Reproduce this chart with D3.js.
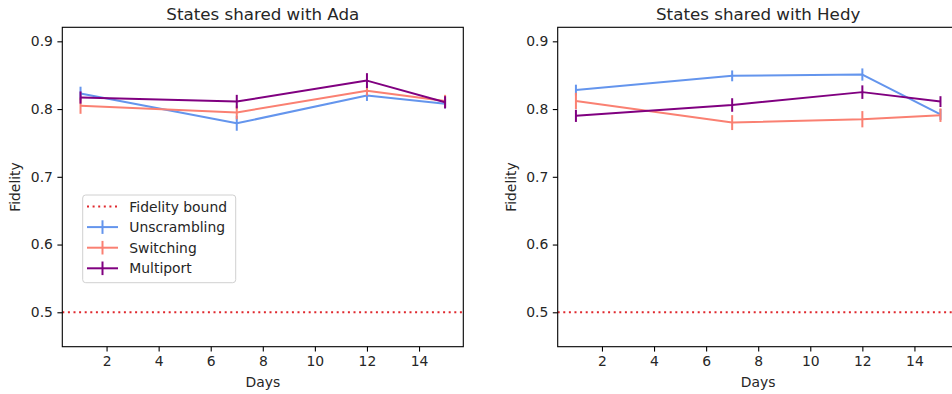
<!DOCTYPE html>
<html><head><meta charset="utf-8">
<script src="https://cdn.jsdelivr.net/npm/d3@7"></script>
<style>body{margin:0;background:#fff}svg{display:block;font-family:"DejaVu Sans",sans-serif}</style>
</head><body><svg id="c" width="952" height="394"></svg>
<script>
const days = [1, 7, 12, 15];
const xTicks = [2, 4, 6, 8, 10, 12, 14];
const yTicks = [0.5, 0.6, 0.7, 0.8, 0.9];
const seriesNames = ["Unscrambling", "Switching", "Multiport"];
const seriesColors = ["#6495ED", "#FA8072", "#800080"];
const boundValue = 0.5;
const titles = ["States shared with Ada", "States shared with Hedy"];

const adaUnscrambling = [0.823, 0.779, 0.820, 0.808];
const adaUnscramblingErr = [0.010, 0.011, 0.008, 0.007];
const adaSwitching = [0.805, 0.795, 0.827, 0.812];
const adaSwitchingErr = [0.012, 0.010, 0.007, 0.009];
const adaMultiport = [0.817, 0.811, 0.842, 0.810];
const adaMultiportErr = [0.009, 0.010, 0.011, 0.009];

const hedyUnscrambling = [0.828, 0.849, 0.851, 0.792];
const hedyUnscramblingErr = [0.008, 0.008, 0.009, 0.008];
const hedySwitching = [0.812, 0.780, 0.785, 0.791];
const hedySwitchingErr = [0.012, 0.011, 0.012, 0.010];
const hedyMultiport = [0.790, 0.806, 0.825, 0.811];
const hedyMultiportErr = [0.009, 0.010, 0.010, 0.008];

const panels = [
  {title: titles[0], left: 62.3, vals: [adaUnscrambling, adaSwitching, adaMultiport], errs: [adaUnscramblingErr, adaSwitchingErr, adaMultiportErr], legend: true},
  {title: titles[1], left: 557.7, vals: [hedyUnscrambling, hedySwitching, hedyMultiport], errs: [hedyUnscramblingErr, hedySwitchingErr, hedyMultiportErr], legend: false}
];

const svg = d3.select("#c");
const W = 401, plotTop = 27.3, plotBottom = 346.7;
const txt = "#262626";
const boundColor = "#e0282e";

panels.forEach(p => {
  const x = d3.scaleLinear().domain([0.3, 15.7]).range([p.left, p.left + W]);
  const y = d3.scaleLinear().domain([0.4492, 0.9207]).range([plotBottom, plotTop]);
  const g = svg.append("g");

  g.append("line").attr("x1", x(0.3)).attr("x2", x(15.7)).attr("y1", y(boundValue)).attr("y2", y(boundValue))
    .attr("stroke", boundColor).attr("stroke-width", 2).attr("stroke-dasharray", "2,3.6");

  const line = d3.line().x((d, i) => x(days[i])).y(d => y(d));
  p.vals.forEach((vals, s) => {
    g.append("path").attr("d", line(vals)).attr("fill", "none")
      .attr("stroke", seriesColors[s]).attr("stroke-width", 2).attr("stroke-linejoin", "round");
    vals.forEach((v, i) => {
      g.append("line").attr("x1", x(days[i])).attr("x2", x(days[i]))
        .attr("y1", y(v - p.errs[s][i])).attr("y2", y(v + p.errs[s][i]))
        .attr("stroke", seriesColors[s]).attr("stroke-width", 2);
    });
  });

  g.append("rect").attr("x", p.left).attr("y", plotTop).attr("width", W).attr("height", plotBottom - plotTop)
    .attr("fill", "none").attr("stroke", "#000").attr("stroke-width", 1.1);

  const xa = g.append("g").attr("transform", `translate(0,${plotBottom})`)
    .call(d3.axisBottom(x).tickValues(xTicks).tickSize(4.9).tickPadding(4.5).tickFormat(d3.format("d")));
  const ya = g.append("g").attr("transform", `translate(${p.left},0)`)
    .call(d3.axisLeft(y).tickValues(yTicks).tickSize(4.9).tickPadding(4.5).tickFormat(d3.format(".1f")));
  [xa, ya].forEach(a => {
    a.select(".domain").remove();
    a.selectAll("line").attr("stroke", "#000").attr("stroke-width", 1.1);
    a.selectAll("text").attr("fill", txt).style("font-size", "13.9px").style("font-family", "DejaVu Sans");
  });

  g.append("text").attr("x", p.left + W / 2).attr("y", 20).attr("text-anchor", "middle")
    .attr("fill", txt).style("font-size", "16.7px").text(p.title);
  g.append("text").attr("x", p.left + W / 2).attr("y", 387).attr("text-anchor", "middle")
    .attr("fill", txt).style("font-size", "13.9px").text("Days");
  g.append("text").attr("transform", `translate(${p.left - 42},${(plotTop + plotBottom) / 2}) rotate(-90)`)
    .attr("text-anchor", "middle").attr("fill", txt).style("font-size", "13.9px").text("Fidelity");

  if (p.legend) {
    const lg = g.append("g");
    lg.append("rect").attr("x", 82.7).attr("y", 195).attr("width", 153).attr("height", 87.7)
      .attr("rx", 3).attr("fill", "#fff").attr("fill-opacity", 0.8).attr("stroke", "#d0d0d0").attr("stroke-width", 1);
    const names = ["Fidelity bound"].concat(seriesNames);
    names.forEach((n, i) => {
      const cy = 206.5 + i * 20.6;
      if (i === 0) {
        lg.append("line").attr("x1", 87).attr("x2", 118).attr("y1", cy).attr("y2", cy)
          .attr("stroke", boundColor).attr("stroke-width", 2).attr("stroke-dasharray", "2,3.6");
      } else {
        const c = seriesColors[i - 1];
        lg.append("line").attr("x1", 87).attr("x2", 118).attr("y1", cy).attr("y2", cy).attr("stroke", c).attr("stroke-width", 2);
        lg.append("line").attr("x1", 102.5).attr("x2", 102.5).attr("y1", cy - 6.8).attr("y2", cy + 6.8).attr("stroke", c).attr("stroke-width", 2);
      }
      lg.append("text").attr("x", 129.3).attr("y", cy + 5).attr("fill", txt).style("font-size", "13.9px").text(n);
    });
  }
});
</script></body></html>
